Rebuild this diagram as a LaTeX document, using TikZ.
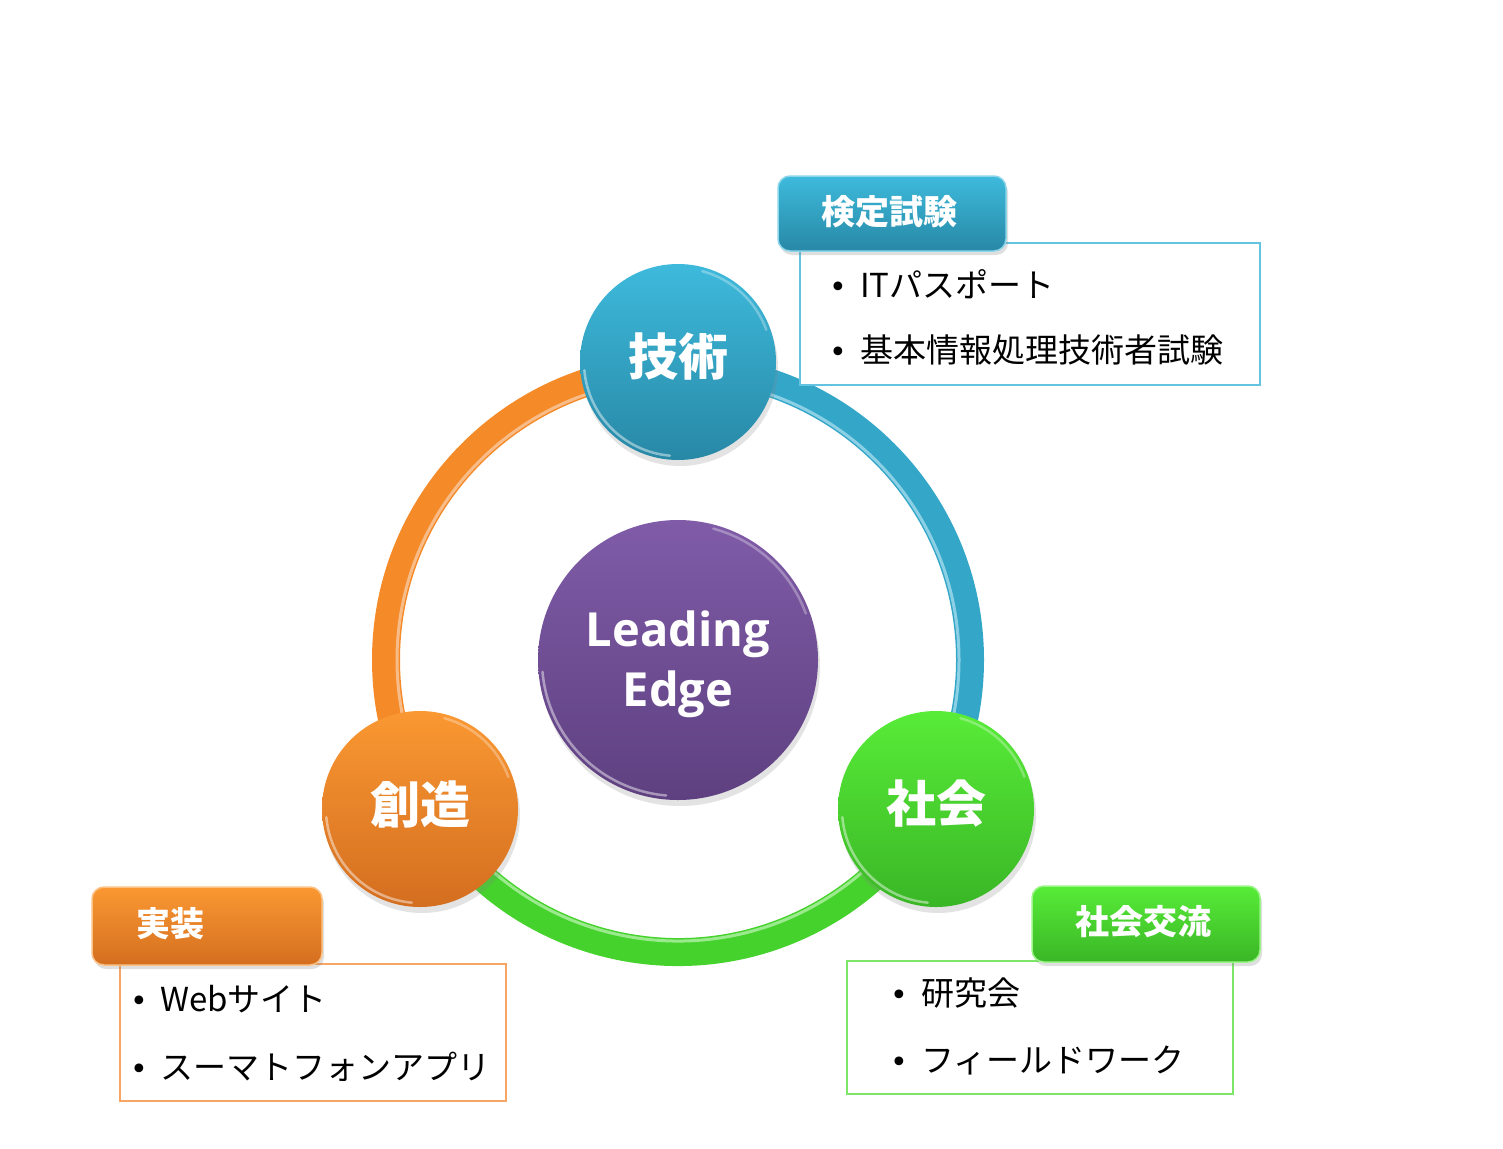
\documentclass[tikz,border=0pt]{standalone}
\usepackage{fontspec}
\newfontfamily\cjk{Noto Sans CJK JP}
\newfontfamily\latinb{Open Sans}
\newfontfamily\dej{DejaVu Sans}
\usetikzlibrary{shadows}
\definecolor{bT}{RGB}{62,186,220}
\definecolor{bB}{RGB}{40,136,166}
\definecolor{oT}{RGB}{250,152,50}
\definecolor{oB}{RGB}{212,110,32}
\definecolor{gT}{RGB}{88,236,56}
\definecolor{gB}{RGB}{58,182,38}
\definecolor{pT}{RGB}{128,92,168}
\definecolor{pB}{RGB}{94,64,128}
\definecolor{bRing}{RGB}{52,166,200}
\definecolor{oRing}{RGB}{244,138,40}
\definecolor{gRing}{RGB}{70,210,45}
\definecolor{bLine}{RGB}{100,195,225}
\definecolor{oLine}{RGB}{246,165,100}
\definecolor{gLine}{RGB}{125,230,105}
\tikzset{
  ball/.style={circle, minimum size=196pt, inner sep=0pt, text=white,
    font=\cjk\bfseries\fontsize{50}{50}\selectfont,
    drop shadow={opacity=0.22, shadow xshift=2pt, shadow yshift=-6pt}},
  tabbox/.style={rounded corners=12pt, minimum height=76pt, inner ysep=0pt,
    inner xsep=43pt, text width=142pt, align=left, text=white,
    font=\cjk\bfseries\fontsize{34}{34}\selectfont,
    drop shadow={opacity=0.25, shadow xshift=2pt, shadow yshift=-4pt}},
  itembox/.style={draw, line width=1.5pt, fill=white, inner sep=0pt},
  item/.style={anchor=west, inner sep=0pt, font=\cjk\fontsize{33}{33}\selectfont},
  ringarc/.style={line width=28pt},
  gloss/.style={white, opacity=0.45, line width=2.5pt, line cap=round},
}
\newcommand{\bul}[1]{\makebox[#1][l]{\dej\fontsize{30}{30}\selectfont •}}
\newcommand{\shiftv}[2]{\raisebox{#1}[\height][\depth]{#2}}
\begin{document}
\begin{tikzpicture}[x=1pt,y=1pt]
\useasboundingbox (0,0) rectangle (1503,-1148);
\coordinate (ring) at (678,-660);

% ring arcs
\draw[ringarc, bRing] ([shift={(90:292)}]ring) arc[start angle=90, end angle=-30, radius=292];
\draw[ringarc, oRing] ([shift={(90:292)}]ring) arc[start angle=90, end angle=210, radius=292];
\draw[ringarc, gRing] ([shift={(210:292)}]ring) arc[start angle=210, end angle=330, radius=292];
\draw[bLine!60!white, line width=3pt, opacity=.8] ([shift={(90:281)}]ring) arc[start angle=90, end angle=-30, radius=281];
\draw[oLine!60!white, line width=3pt, opacity=.8] ([shift={(90:281)}]ring) arc[start angle=90, end angle=210, radius=281];
\draw[gLine!60!white, line width=3pt, opacity=.8] ([shift={(210:281)}]ring) arc[start angle=210, end angle=330, radius=281];

% center
\node[circle, minimum size=280pt, inner sep=0pt, top color=pT, bottom color=pB,
  drop shadow={opacity=0.22, shadow xshift=2pt, shadow yshift=-6pt},
  text=white, font=\latinb\bfseries\fontsize{47}{60}\selectfont]
  (le) at (678,-660) {\shiftv{-4pt}{\begin{tabular}{@{}c@{}}Leading\\Edge\end{tabular}}};
\draw[gloss] ([shift={(185:136)}]le.center) arc[start angle=185, end angle=265, radius=136];
\draw[gloss, opacity=.3] ([shift={(20:136)}]le.center) arc[start angle=20, end angle=75, radius=136];

% three balls
\node[ball, top color=bT, bottom color=bB] (tech) at (678,-362) {\shiftv{5pt}{技術}};
\node[ball, top color=oT, bottom color=oB] (sozo) at (420,-809) {\shiftv{5pt}{創造}};
\node[ball, top color=gT, bottom color=gB] (shakai) at (936,-809) {\shiftv{5pt}{社会}};
\foreach \n in {tech,sozo,shakai}{
  \draw[gloss] ([shift={(185:94)}]\n.center) arc[start angle=185, end angle=265, radius=94];
  \draw[gloss, opacity=.3] ([shift={(20:94)}]\n.center) arc[start angle=20, end angle=75, radius=94];
}

% item boxes
\node[itembox, draw=bLine, minimum width=460pt, minimum height=142pt] (box1) at (1030,-314) {};
\node[itembox, draw=oLine, minimum width=386pt, minimum height=137pt] (box2) at (313,-1032.5) {};
\node[itembox, draw=gLine, minimum width=386pt, minimum height=133pt] (box3) at (1040,-1027.5) {};

% tabs
\node[tabbox, top color=bT, bottom color=bB, draw=bT!60!white, line width=1.5pt, minimum height=75pt] (tab1) at (892,-213.5) {\shiftv{2pt}{検定試験}};
\node[tabbox, top color=oT, bottom color=oB, draw=oT!60!white, line width=1.5pt, inner xsep=44pt, minimum height=78pt] (tab2) at (207,-926) {\shiftv{2pt}{実装}};
\node[tabbox, top color=gT, bottom color=gB, draw=gT!60!white, line width=1.5pt] (tab3) at (1146,-924) {\shiftv{2pt}{社会交流}};

% items
\node[item] (i11) at (829,-284) {\bul{31pt}ITパスポート};
\node[item] (i12) at (829,-350) {\bul{31pt}基本情報処理技術者試験};
\node[item] (i21) at (130,-999) {\bul{30pt}Webサイト};
\node[item] (i22) at (130,-1067) {\bul{30pt}スーマトフォンアプリ};
\node[item] (i31) at (890,-993) {\bul{31pt}研究会};
\node[item] (i32) at (890,-1060) {\bul{31pt}フィールドワーク};
\end{tikzpicture}
\end{document}
